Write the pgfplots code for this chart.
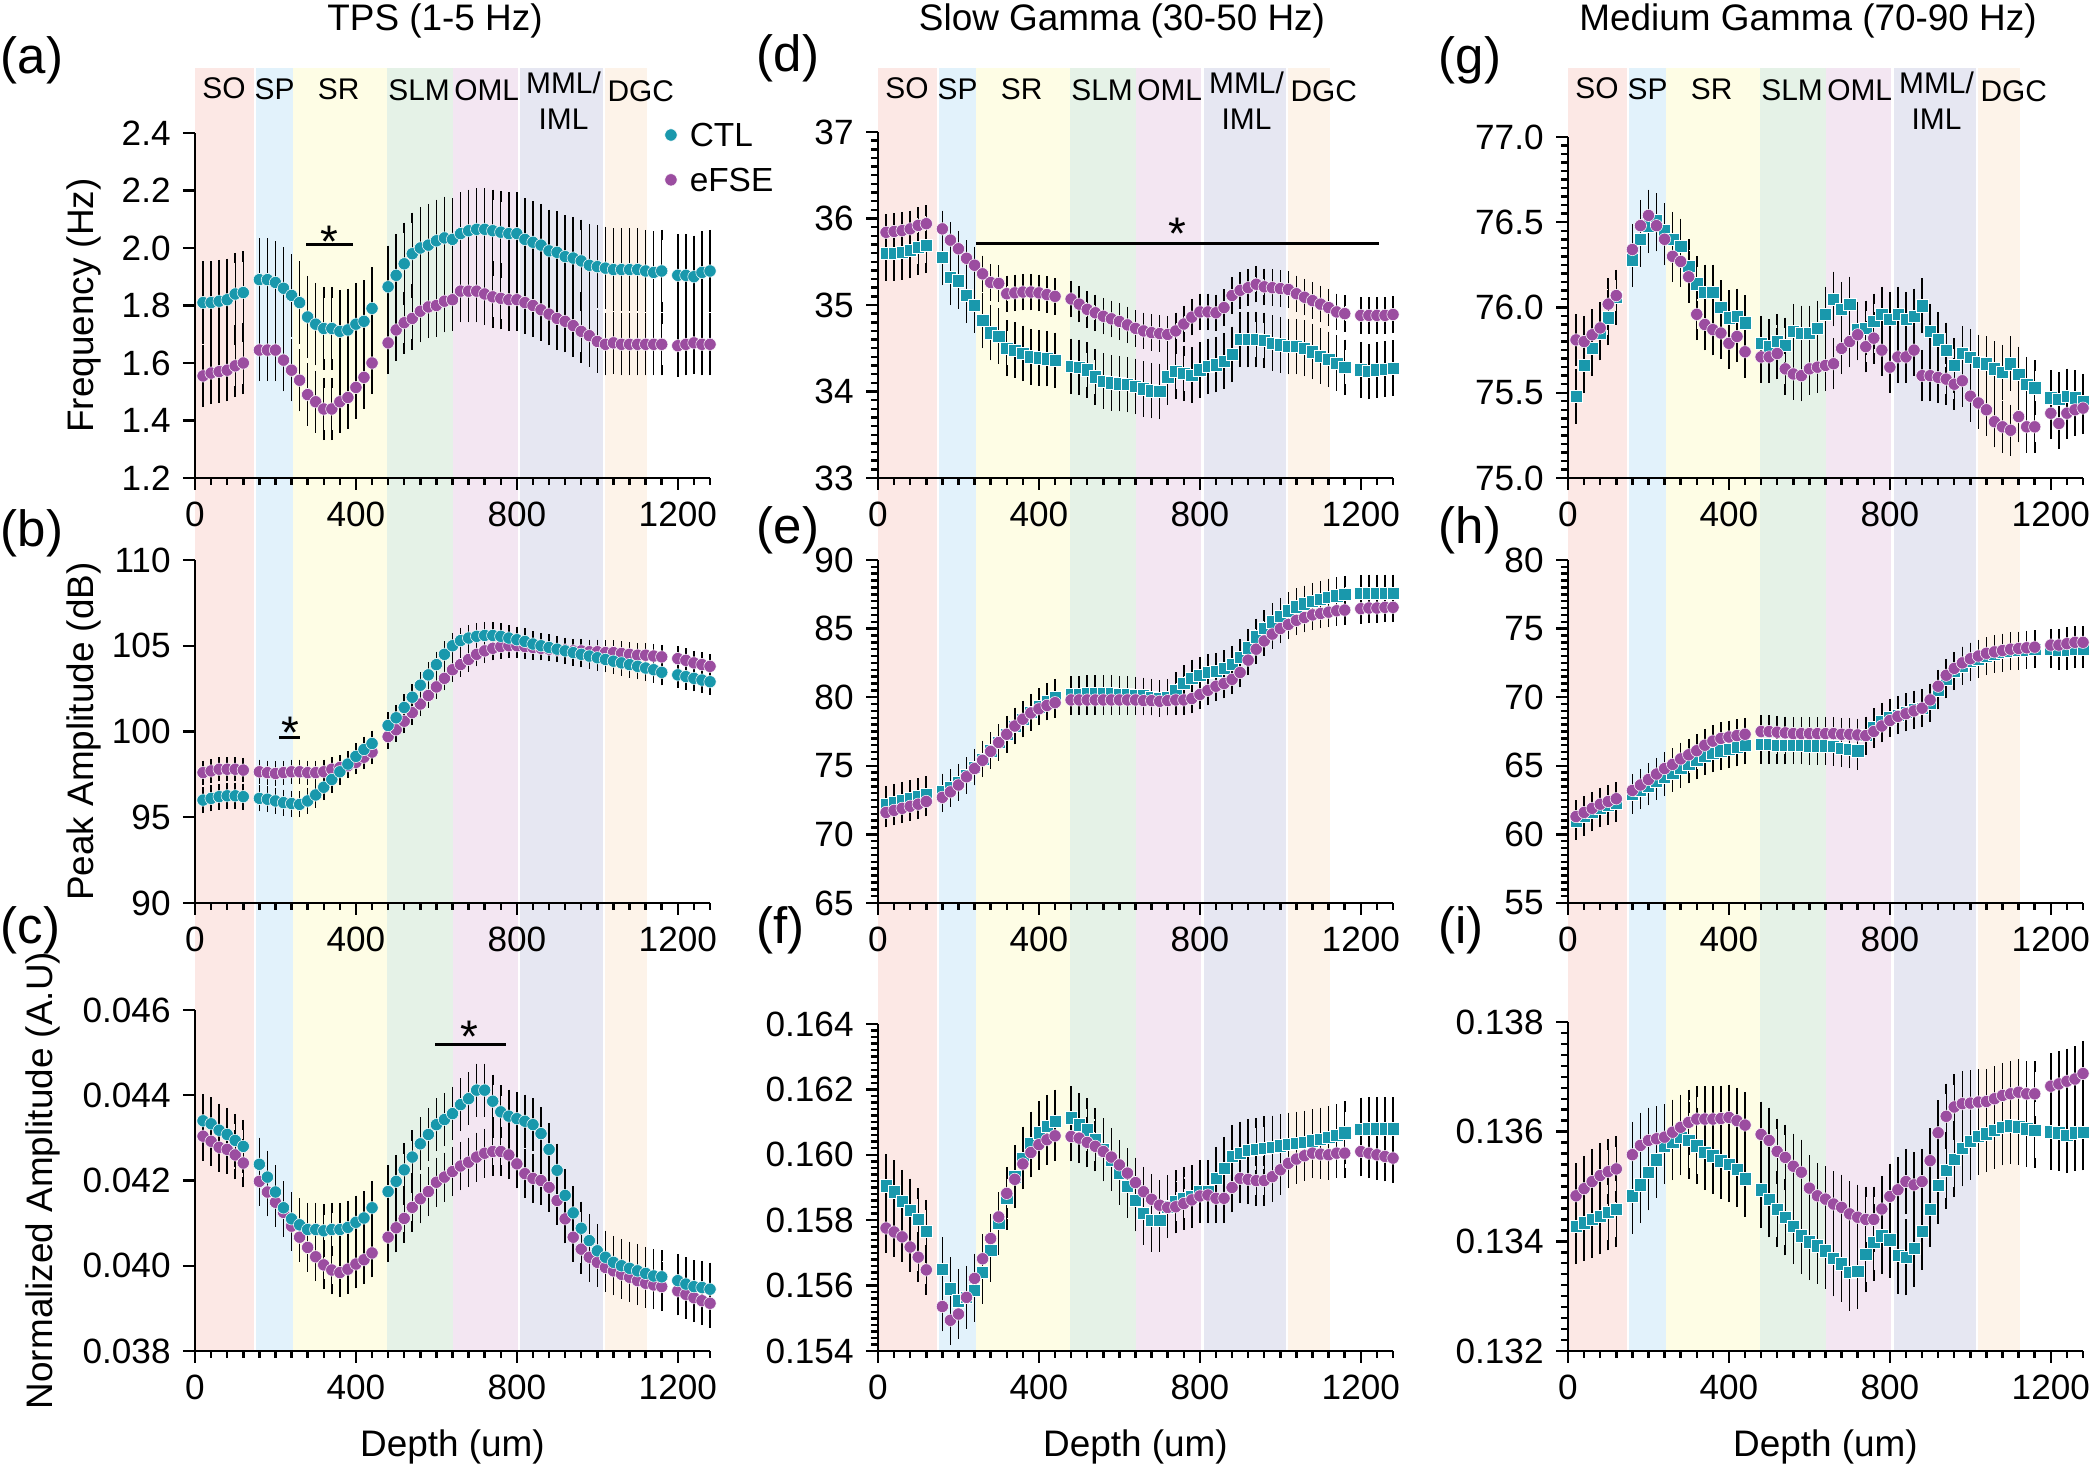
\documentclass[border=0pt]{standalone}
\usepackage{fontspec}
\setmainfont{Liberation Sans}
\usepackage{pgfplots}
\usepackage{pgfplotstable}
\pgfplotsset{compat=1.18}

\definecolor{ctl}{RGB}{25,152,172}
\definecolor{efse}{RGB}{155,77,160}
\definecolor{bSO}{RGB}{252,232,229}
\definecolor{bSP}{RGB}{226,242,251}
\definecolor{bSR}{RGB}{254,253,229}
\definecolor{bSLM}{RGB}{229,242,231}
\definecolor{bOML}{RGB}{243,230,242}
\definecolor{bMML}{RGB}{230,231,242}
\definecolor{bDGC}{RGB}{253,243,233}

% x = depth (um), c = CTL, f = eFSE
\pgfplotstableread{
x c f
20 1.81 1.555
40 1.81 1.565
60 1.815 1.57
80 1.82 1.575
100 1.84 1.59
120 1.845 1.60
160 1.89 1.645
180 1.89 1.645
200 1.88 1.645
220 1.86 1.61
240 1.835 1.575
260 1.81 1.54
280 1.76 1.49
300 1.735 1.465
320 1.72 1.44
340 1.72 1.44
360 1.71 1.465
380 1.715 1.48
400 1.735 1.515
420 1.745 1.55
440 1.79 1.60
480 1.865 1.67
500 1.905 1.715
520 1.945 1.74
540 1.98 1.755
560 2.00 1.78
580 2.01 1.795
600 2.025 1.80
620 2.035 1.815
640 2.03 1.82
660 2.05 1.85
680 2.06 1.85
700 2.065 1.85
720 2.065 1.84
740 2.06 1.83
760 2.055 1.825
780 2.05 1.82
800 2.05 1.82
820 2.03 1.81
840 2.02 1.80
860 2.01 1.785
880 1.99 1.77
900 1.985 1.755
920 1.97 1.745
940 1.965 1.73
960 1.955 1.71
980 1.94 1.695
1000 1.935 1.675
1020 1.93 1.665
1040 1.925 1.67
1060 1.925 1.665
1080 1.925 1.665
1100 1.925 1.665
1120 1.92 1.665
1140 1.915 1.665
1160 1.92 1.665
1200 1.905 1.66
1220 1.905 1.665
1240 1.90 1.67
1260 1.915 1.665
1280 1.92 1.665
}\tA

\pgfplotstableread{
x c f
20 96.0 97.6
40 96.1 97.7
60 96.2 97.8
80 96.25 97.8
100 96.25 97.8
120 96.2 97.75
160 96.1 97.65
180 96.05 97.6
200 95.95 97.55
220 95.85 97.6
240 95.8 97.65
260 95.75 97.65
280 95.95 97.6
300 96.3 97.6
320 96.75 97.65
340 97.2 97.8
360 97.65 97.9
380 98.1 98.0
400 98.55 98.2
420 98.95 98.5
440 99.3 98.8
480 100.35 99.7
500 100.8 100.1
520 101.4 100.6
540 102.0 101.1
560 102.7 101.6
580 103.3 102.1
600 103.9 102.6
620 104.5 103.1
640 105.0 103.6
660 105.3 103.9
680 105.45 104.2
700 105.55 104.5
720 105.6 104.7
740 105.6 104.85
760 105.55 104.95
780 105.45 105.0
800 105.35 105.0
820 105.25 104.95
840 105.1 104.9
860 105.0 104.85
880 104.9 104.8
900 104.8 104.75
920 104.7 104.75
940 104.6 104.7
960 104.5 104.7
980 104.4 104.65
1000 104.3 104.65
1020 104.2 104.6
1040 104.1 104.6
1060 104.0 104.55
1080 103.9 104.5
1100 103.8 104.45
1120 103.7 104.45
1140 103.6 104.4
1160 103.45 104.35
1200 103.3 104.25
1220 103.2 104.15
1240 103.1 104.0
1260 103.0 103.9
1280 102.9 103.8
}\tB

\pgfplotstableread{
x c f
20 0.04340 0.04304
40 0.04333 0.04292
60 0.04318 0.04278
80 0.04308 0.04273
100 0.04294 0.04260
120 0.04280 0.04241
160 0.04238 0.04198
180 0.04208 0.04173
200 0.04173 0.04149
220 0.04136 0.04125
240 0.04110 0.04093
260 0.04096 0.04067
280 0.04085 0.04043
300 0.04085 0.04021
320 0.04082 0.04002
340 0.04085 0.03990
360 0.04085 0.03984
380 0.04090 0.03992
400 0.04102 0.04004
420 0.04112 0.04014
440 0.04136 0.04030
480 0.04174 0.04067
500 0.04198 0.04089
520 0.04225 0.04111
540 0.04255 0.04137
560 0.04286 0.04157
580 0.04308 0.04174
600 0.04331 0.04196
620 0.04343 0.04208
640 0.04357 0.04221
660 0.04378 0.04234
680 0.04392 0.04243
700 0.04412 0.04255
720 0.04412 0.04264
740 0.04386 0.04268
760 0.04361 0.04268
780 0.04351 0.04260
800 0.04345 0.04239
820 0.04339 0.04216
840 0.04331 0.04205
860 0.04310 0.04200
880 0.04273 0.04184
900 0.04224 0.04153
920 0.04165 0.04110
940 0.04124 0.04067
960 0.04088 0.04039
980 0.04059 0.04020
1000 0.04035 0.04008
1020 0.04020 0.03996
1040 0.04008 0.03988
1060 0.04000 0.03980
1080 0.03994 0.03973
1100 0.03988 0.03965
1120 0.03982 0.03959
1140 0.03976 0.03955
1160 0.03974 0.03951
1200 0.03965 0.03941
1220 0.03957 0.03933
1240 0.03951 0.03925
1260 0.03949 0.03918
1280 0.03945 0.03912
}\tC

\pgfplotstableread{
x c f
20 35.60 35.84
40 35.60 35.85
60 35.61 35.86
80 35.63 35.88
100 35.67 35.92
120 35.69 35.94
160 35.55 35.88
180 35.32 35.75
200 35.28 35.65
220 35.11 35.54
240 35.00 35.46
260 34.82 35.36
280 34.68 35.26
300 34.64 35.25
320 34.50 35.13
340 34.48 35.14
360 34.44 35.15
380 34.40 35.15
400 34.39 35.14
420 34.38 35.12
440 34.36 35.10
480 34.29 35.07
500 34.28 35.01
520 34.25 34.95
540 34.17 34.91
560 34.12 34.87
580 34.10 34.84
600 34.09 34.81
620 34.08 34.77
640 34.06 34.73
660 34.03 34.70
680 34.01 34.68
700 34.00 34.67
720 34.17 34.66
740 34.23 34.70
760 34.21 34.78
780 34.19 34.86
800 34.25 34.92
820 34.29 34.92
840 34.31 34.91
860 34.35 34.97
880 34.43 35.11
900 34.60 35.17
920 34.60 35.20
940 34.60 35.24
960 34.59 35.21
980 34.56 35.20
1000 34.54 35.19
1020 34.52 35.18
1040 34.52 35.13
1060 34.50 35.09
1080 34.46 35.05
1100 34.41 35.01
1120 34.37 34.97
1140 34.33 34.92
1160 34.28 34.90
1200 34.25 34.88
1220 34.23 34.88
1240 34.25 34.88
1260 34.26 34.88
1280 34.27 34.89
}\tD

\pgfplotstableread{
x c f
20 72.2 71.6
40 72.35 71.75
60 72.5 71.9
80 72.6 72.05
100 72.75 72.2
120 72.9 72.4
160 73.1 72.7
180 73.4 73.1
200 73.8 73.6
220 74.3 74.2
240 74.9 74.8
260 75.5 75.4
280 76.1 76.05
300 76.7 76.7
320 77.3 77.3
340 77.9 77.9
360 78.4 78.4
380 78.9 78.85
400 79.3 79.15
420 79.7 79.4
440 80.0 79.6
480 80.2 79.8
500 80.2 79.8
520 80.25 79.8
540 80.25 79.8
560 80.25 79.8
580 80.25 79.8
600 80.2 79.8
620 80.2 79.8
640 80.15 79.8
660 80.1 79.75
680 80.0 79.75
700 79.9 79.7
720 80.0 79.75
740 80.5 79.8
760 81.0 79.8
780 81.4 79.9
800 81.6 80.2
820 81.8 80.5
840 81.9 80.8
860 82.1 81.0
880 82.4 81.3
900 82.9 81.8
920 83.6 82.7
940 84.4 83.5
960 85.0 84.1
980 85.5 84.6
1000 85.9 85.0
1020 86.3 85.3
1040 86.6 85.6
1060 86.8 85.8
1080 87.0 86.0
1100 87.15 86.1
1120 87.3 86.2
1140 87.4 86.3
1160 87.5 86.35
1200 87.55 86.45
1220 87.6 86.5
1240 87.6 86.5
1260 87.6 86.55
1280 87.6 86.55
}\tE

\pgfplotstableread{
x c f
20 0.15905 0.15776
40 0.15887 0.15764
60 0.15858 0.15749
80 0.15831 0.15718
100 0.15802 0.15687
120 0.15766 0.15648
160 0.15651 0.15536
180 0.15590 0.15494
200 0.15554 0.15513
220 0.15564 0.15564
240 0.15585 0.15622
260 0.15641 0.15682
280 0.15708 0.15744
300 0.15790 0.15810
320 0.15867 0.15882
340 0.15933 0.15925
360 0.15990 0.15972
380 0.16036 0.16007
400 0.16067 0.16031
420 0.16087 0.16046
440 0.16103 0.16058
480 0.16113 0.16056
500 0.16092 0.16051
520 0.16077 0.16038
540 0.16046 0.16026
560 0.16015 0.16010
580 0.15985 0.15993
600 0.15944 0.15969
620 0.15903 0.15944
640 0.15862 0.15915
660 0.15821 0.15887
680 0.15800 0.15864
700 0.15800 0.15846
720 0.15841 0.15839
740 0.15856 0.15841
760 0.15867 0.15851
780 0.15872 0.15862
800 0.15887 0.15874
820 0.15887 0.15877
840 0.15928 0.15867
860 0.15959 0.15867
880 0.15995 0.15900
900 0.16005 0.15928
920 0.16013 0.15925
940 0.16017 0.15921
960 0.16021 0.15921
980 0.16024 0.15933
1000 0.16028 0.15954
1020 0.16033 0.15974
1040 0.16036 0.15987
1060 0.16039 0.15997
1080 0.16043 0.16005
1100 0.16048 0.16002
1120 0.16053 0.16000
1140 0.16059 0.16005
1160 0.16067 0.16005
1200 0.16079 0.16010
1220 0.16080 0.16005
1240 0.16080 0.16000
1260 0.16080 0.15995
1280 0.16080 0.15990
}\tF

\pgfplotstableread{
x c f
20 75.48 75.81
40 75.66 75.80
60 75.76 75.84
80 75.85 75.88
100 75.94 76.02
120 76.06 76.07
160 76.28 76.34
180 76.40 76.48
200 76.48 76.54
220 76.51 76.48
240 76.45 76.40
260 76.40 76.30
280 76.36 76.27
300 76.24 76.18
320 76.14 75.96
340 76.09 75.90
360 76.09 75.87
380 76.00 75.85
400 75.94 75.79
420 75.95 75.83
440 75.91 75.74
480 75.79 75.71
500 75.77 75.71
520 75.80 75.73
540 75.78 75.64
560 75.86 75.61
580 75.85 75.60
600 75.85 75.64
620 75.88 75.65
640 75.96 75.66
660 76.05 75.67
680 75.99 75.76
700 76.02 75.80
720 75.87 75.84
740 75.88 75.77
760 75.92 75.82
780 75.96 75.75
800 75.93 75.65
820 75.96 75.71
840 75.93 75.71
860 75.95 75.75
880 76.01 75.60
900 75.86 75.60
920 75.81 75.59
940 75.75 75.58
960 75.66 75.55
980 75.73 75.57
1000 75.71 75.48
1020 75.68 75.44
1040 75.67 75.40
1060 75.64 75.33
1080 75.62 75.30
1100 75.67 75.28
1120 75.61 75.36
1140 75.55 75.30
1160 75.53 75.30
1200 75.47 75.38
1220 75.46 75.32
1240 75.48 75.38
1260 75.47 75.40
1280 75.45 75.41
}\tG

\pgfplotstableread{
x c f
20 61.0 61.3
40 61.3 61.6
60 61.6 61.9
80 61.9 62.2
100 62.1 62.4
120 62.3 62.6
160 62.9 63.2
180 63.2 63.6
200 63.5 64.0
220 63.9 64.4
240 64.2 64.8
260 64.5 65.1
280 64.8 65.5
300 65.1 65.8
320 65.4 66.1
340 65.7 66.5
360 65.9 66.8
380 66.1 67.0
400 66.2 67.1
420 66.35 67.2
440 66.5 67.3
480 66.55 67.5
500 66.55 67.5
520 66.5 67.45
540 66.5 67.4
560 66.5 67.35
580 66.5 67.35
600 66.45 67.35
620 66.45 67.35
640 66.45 67.35
660 66.4 67.35
680 66.3 67.3
700 66.2 67.3
720 66.1 67.25
740 67.2 67.2
760 67.8 67.5
780 68.2 67.9
800 68.5 68.3
820 68.7 68.6
840 68.9 68.8
860 69.1 69.0
880 69.2 69.2
900 69.6 69.8
920 70.5 70.8
940 71.3 71.6
960 71.9 72.1
980 72.3 72.5
1000 72.6 72.8
1020 72.8 73.0
1040 73.0 73.2
1060 73.15 73.3
1080 73.25 73.4
1100 73.35 73.5
1120 73.4 73.55
1140 73.45 73.6
1160 73.5 73.65
1200 73.5 73.8
1220 73.4 73.8
1240 73.4 73.9
1260 73.5 74.0
1280 73.5 74.0
}\tH

\pgfplotstableread{
x c f
20 0.13428 0.13483
40 0.13434 0.13496
60 0.13440 0.13509
80 0.13446 0.13520
100 0.13453 0.13527
120 0.13459 0.13532
160 0.13483 0.13558
180 0.13503 0.13575
200 0.13526 0.13584
220 0.13549 0.13587
240 0.13574 0.13590
260 0.13581 0.13599
280 0.13590 0.13608
300 0.13584 0.13617
320 0.13574 0.13623
340 0.13563 0.13623
360 0.13556 0.13623
380 0.13547 0.13624
400 0.13541 0.13626
420 0.13532 0.13620
440 0.13514 0.13612
480 0.13494 0.13595
500 0.13477 0.13584
520 0.13459 0.13564
540 0.13444 0.13553
560 0.13428 0.13537
580 0.13410 0.13526
600 0.13399 0.13497
620 0.13392 0.13483
640 0.13383 0.13477
660 0.13369 0.13468
680 0.13359 0.13462
700 0.13343 0.13450
720 0.13346 0.13444
740 0.13377 0.13440
760 0.13398 0.13440
780 0.13410 0.13459
800 0.13403 0.13482
820 0.13374 0.13494
840 0.13371 0.13509
860 0.13387 0.13503
880 0.13418 0.13509
900 0.13459 0.13547
920 0.13502 0.13598
940 0.13529 0.13628
960 0.13550 0.13645
980 0.13570 0.13651
1000 0.13582 0.13652
1020 0.13591 0.13654
1040 0.13596 0.13655
1060 0.13602 0.13660
1080 0.13608 0.13666
1100 0.13611 0.13669
1120 0.13609 0.13672
1140 0.13605 0.13669
1160 0.13603 0.13669
1200 0.13600 0.13683
1220 0.13598 0.13687
1240 0.13594 0.13692
1260 0.13598 0.13696
1280 0.13599 0.13706
}\tI

\pgfplotsset{
  panel/.style={
    scale only axis, anchor=south west, width=51.5mm,
    xmin=0, xmax=1280, xtick={0,400,800,1200}, minor xtick={40,80,...,1280},
    axis x line*=bottom, axis y line*=left,
    axis line style={line width=0.8pt, -},
    every tick/.append style={black, line width=0.7pt},
    major tick length=1.2mm, minor tick length=0.7mm,
    tick align=outside,
    tick label style={font=\fontsize{10}{12}\selectfont},
    /pgf/number format/assume math mode=true,
    /pgf/number format/1000 sep={},
    scaled y ticks=false,
    clip=false,
    label style={font=\fontsize{10.5}{12}\selectfont},
  },
  ylab/.style={ylabel style={at={(rel axis cs:0,0.5)}, anchor=center, yshift=#1}},
  xlab/.style={xlabel={Depth (um)}, xlabel style={at={(rel axis cs:0.5,0)}, anchor=center, yshift=-9.6mm}},
  sers/.style n args={4}{only marks, mark=#1, mark size=#2,
    mark options={fill=#3, draw=white, line width=0.15pt, solid},
    error bars/y dir=both, error bars/y fixed=#4,
    error bars/error bar style={black, line width=0.4pt, solid},
    error bars/error mark options={black, line width=0.45pt, mark size=1.5pt}},
  bg/.style={scale only axis, anchor=south west, width=51.5mm, height=128.3mm,
    xmin=0, xmax=1280, ymin=0, ymax=1, hide axis, clip=false},
  dec1/.style={yticklabel style={/pgf/number format/.cd, fixed, fixed zerofill, precision=1}},
  dec3/.style={yticklabel style={/pgf/number format/.cd, fixed, fixed zerofill, precision=3}},
}

\tikzset{bl/.style={font=\fontsize{8.5}{10}\selectfont, inner sep=0pt},
  plab/.style={font=\fontsize{14.5}{17}\selectfont, inner sep=0pt, anchor=west},
  star/.style={font=\fontsize{13}{13}\selectfont, inner sep=0pt, yshift=-1mm}}

\newcommand{\bands}{%
  \addplot[draw=none, fill=bSO] coordinates {(0,0) (147,0) (147,1) (0,1)};
  \addplot[draw=none, fill=bSP] coordinates {(151,0) (243,0) (243,1) (151,1)};
  \addplot[draw=none, fill=bSR] coordinates {(243,0) (478,0) (478,1) (243,1)};
  \addplot[draw=none, fill=bSLM] coordinates {(478,0) (640,0) (640,1) (478,1)};
  \addplot[draw=none, fill=bOML] coordinates {(640,0) (804,0) (804,1) (640,1)};
  \addplot[draw=none, fill=bMML] coordinates {(809,0) (1014,0) (1014,1) (809,1)};
  \addplot[draw=none, fill=bDGC] coordinates {(1019,0) (1123,0) (1123,1) (1019,1)};
  \node[bl] at (axis cs:72,0.9844) {SO};
  \node[bl] at (axis cs:198,0.9835) {SP};
  \node[bl] at (axis cs:357,0.9835) {SR};
  \node[bl] at (axis cs:557,0.9829) {SLM};
  \node[bl] at (axis cs:725,0.9825) {OML};
  \node[bl] at (axis cs:916,0.9883) {MML/};
  \node[bl] at (axis cs:916,0.9602) {IML};
  \node[bl] at (axis cs:1108,0.9821) {DGC};
}

\begin{document}
\begin{tikzpicture}
\useasboundingbox (0,0) rectangle (210mm,146.9mm);

% background bands
\begin{axis}[bg, at={(19.5mm,11.8mm)}] \bands \end{axis}
\begin{axis}[bg, at={(87.8mm,11.8mm)}] \bands \end{axis}
\begin{axis}[bg, at={(156.8mm,11.8mm)}] \bands \end{axis}

% titles and panel labels
\node[font=\fontsize{10.5}{12}\selectfont] at (43.5mm,144.8mm) {TPS (1-5 Hz)};
\node[font=\fontsize{10.5}{12}\selectfont] at (112.2mm,144.8mm) {Slow Gamma (30-50 Hz)};
\node[font=\fontsize{10.5}{12}\selectfont] at (180.8mm,144.8mm) {Medium Gamma (70-90 Hz)};
\node[plab] at (0mm,140.9mm) {(a)};
\node[plab] at (0mm,93.6mm) {(b)};
\node[plab] at (0mm,53.9mm) {(c)};
\node[plab] at (75.6mm,141.1mm) {(d)};
\node[plab] at (75.6mm,93.9mm) {(e)};
\node[plab] at (75.6mm,53.9mm) {(f)};
\node[plab] at (143.8mm,140.9mm) {(g)};
\node[plab] at (143.8mm,93.9mm) {(h)};
\node[plab] at (143.8mm,53.9mm) {(i)};

% (a)
\begin{axis}[panel, dec1, at={(19.5mm,99.1mm)}, height=34.5mm, ymin=1.2, ymax=2.4,
  ytick={1.2,1.4,1.6,1.8,2.0,2.2,2.4}, ylabel={Frequency (Hz)}, ylab=11.1mm]
\addplot[sers={*}{1.75pt}{efse}{0.09}] table[x=x,y=f] {\tA};
\addplot[sers={*}{1.75pt}{ctl}{0.125}] table[x=x,y=c] {\tA};
\addplot[black, line width=0.8pt] coordinates {(276,2.012) (393,2.012)};
\node[star] at (axis cs:333,2.058) {*};
\addplot[only marks, mark=*, mark size=1.75pt, mark options={fill=ctl, draw=white, line width=0.15pt}] coordinates {(1183,2.393)};
\addplot[only marks, mark=*, mark size=1.75pt, mark options={fill=efse, draw=white, line width=0.15pt}] coordinates {(1183,2.237)};
\node[anchor=west, inner sep=0pt, font=\fontsize{9.5}{10}\selectfont] at (axis cs:1228,2.393) {CTL};
\node[anchor=west, inner sep=0pt, font=\fontsize{9.5}{10}\selectfont] at (axis cs:1228,2.237) {eFSE};
\end{axis}

% (b)
\begin{axis}[panel, at={(19.5mm,56.6mm)}, height=34.3mm, ymin=90, ymax=110,
  ytick={90,95,...,110}, ylabel={Peak Amplitude (dB)}, ylab=11.1mm]
\addplot[sers={*}{1.75pt}{efse}{0.4}] table[x=x,y=f] {\tB};
\addplot[sers={*}{1.75pt}{ctl}{0.45}] table[x=x,y=c] {\tB};
\addplot[black, line width=0.8pt] coordinates {(209,99.65) (261,99.65)};
\node[star] at (axis cs:236,100.53) {*};
\end{axis}

% (c)
\begin{axis}[panel, dec3, at={(19.5mm,11.8mm)}, height=34.1mm, ymin=0.038, ymax=0.046,
  ytick={0.038,0.040,0.042,0.044,0.046}, ylabel={Normalized Amplitude (A.U)}, ylab=15.2mm, xlab]
\addplot[sers={*}{1.75pt}{efse}{0.00045}] table[x=x,y=f] {\tC};
\addplot[sers={*}{1.75pt}{ctl}{0.0005}] table[x=x,y=c] {\tC};
\addplot[black, line width=0.8pt] coordinates {(597,0.0452) (773,0.0452)};
\node[star] at (axis cs:683,0.04561) {*};
\end{axis}

% (d)
\begin{axis}[panel, at={(87.8mm,99.1mm)}, height=34.6mm, ymin=33, ymax=37,
  ytick={33,...,37}, minor y tick num=9]
\addplot[sers={square*}{1.75pt}{ctl}{0.26}] table[x=x,y=c] {\tD};
\addplot[sers={*}{1.75pt}{efse}{0.15}] table[x=x,y=f] {\tD};
\addplot[black, line width=0.8pt] coordinates {(243,35.71) (1245,35.71)};
\node[star] at (axis cs:743,35.94) {*};
\end{axis}

% (e)
\begin{axis}[panel, at={(87.8mm,56.6mm)}, height=34.3mm, ymin=65, ymax=90,
  ytick={65,70,...,90}, minor y tick num=9]
\addplot[sers={square*}{1.75pt}{ctl}{0.95}] table[x=x,y=c] {\tE};
\addplot[sers={*}{1.75pt}{efse}{0.7}] table[x=x,y=f] {\tE};
\end{axis}

% (f)
\begin{axis}[panel, dec3, at={(87.8mm,11.8mm)}, height=32.7mm, ymin=0.154, ymax=0.164,
  ytick={0.154,0.156,0.158,0.160,0.162,0.164}, minor y tick num=9, xlab]
\addplot[sers={square*}{1.75pt}{ctl}{0.0008}] table[x=x,y=c] {\tF};
\addplot[sers={*}{1.75pt}{efse}{0.0006}] table[x=x,y=f] {\tF};
\end{axis}

% (g)
\begin{axis}[panel, dec1, at={(156.8mm,99.1mm)}, height=34.1mm, ymin=75, ymax=77,
  ytick={75,75.5,76,76.5,77}, minor y tick num=9]
\addplot[sers={square*}{1.75pt}{ctl}{0.13}] table[x=x,y=c] {\tG};
\addplot[sers={*}{1.75pt}{efse}{0.12}] table[x=x,y=f] {\tG};
\end{axis}

% (h)
\begin{axis}[panel, at={(156.8mm,56.6mm)}, height=34.3mm, ymin=55, ymax=80,
  ytick={55,60,...,80}, minor y tick num=9]
\addplot[sers={square*}{1.75pt}{ctl}{1.0}] table[x=x,y=c] {\tH};
\addplot[sers={*}{1.75pt}{efse}{0.8}] table[x=x,y=f] {\tH};
\end{axis}

% (i)
\begin{axis}[panel, dec3, at={(156.8mm,11.8mm)}, height=32.9mm, ymin=0.132, ymax=0.138,
  ytick={0.132,0.134,0.136,0.138}, minor y tick num=9, xlab]
\addplot[sers={square*}{1.75pt}{ctl}{0.0006}] table[x=x,y=c] {\tI};
\addplot[sers={*}{1.75pt}{efse}{0.0005}] table[x=x,y=f] {\tI};
\end{axis}

\end{tikzpicture}
\end{document}
